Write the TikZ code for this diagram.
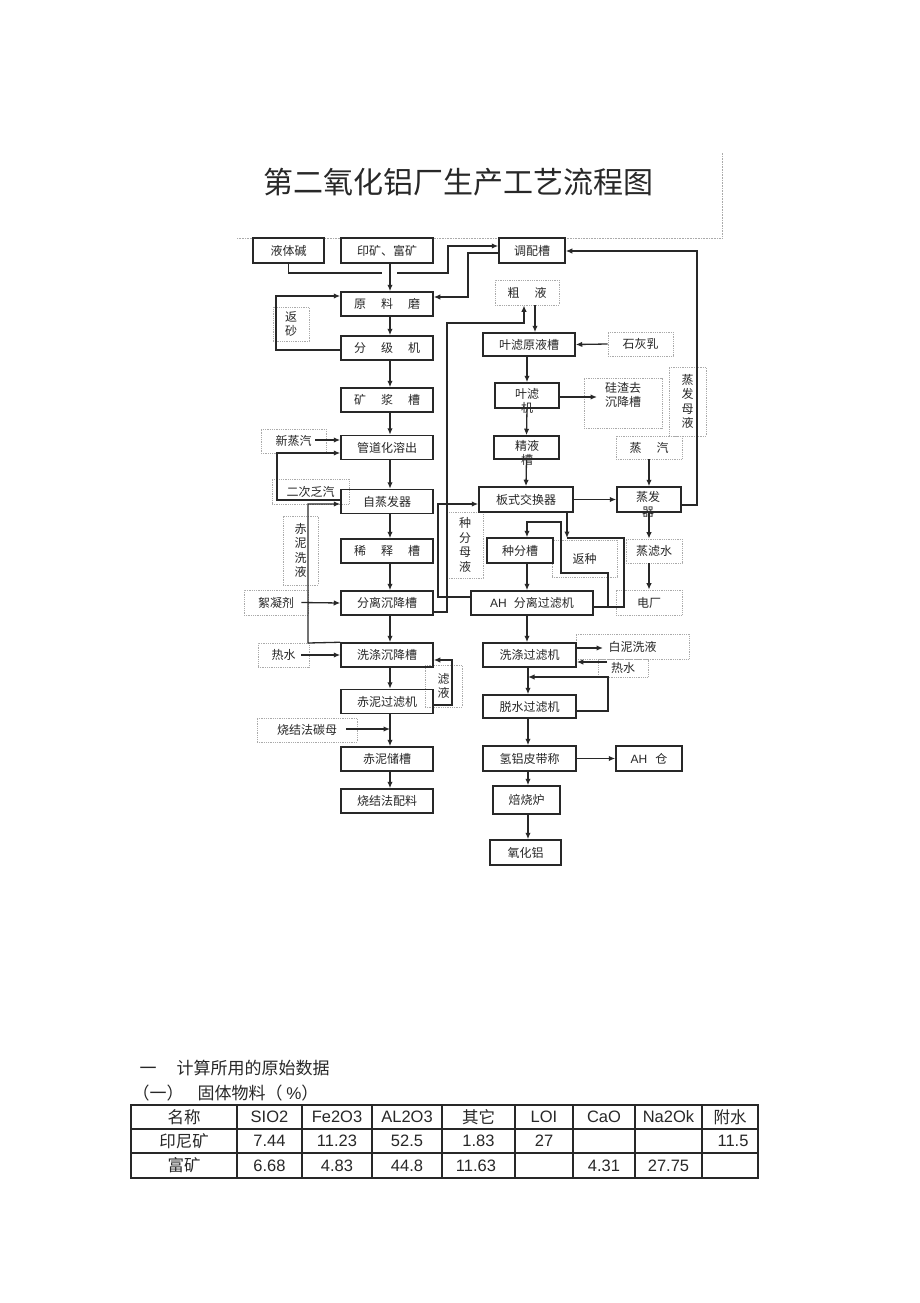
\documentclass[tikz,border=0pt]{standalone}
\usepackage{fontspec}
\setmainfont{Noto Sans CJK SC}
\newfontfamily\arial{Liberation Sans}
\usetikzlibrary{arrows.meta}

\definecolor{inkgray}{RGB}{40,40,40}
\definecolor{dotgray}{RGB}{170,170,170}

\tikzset{%
  proc/.style={draw=inkgray, line width=1.5pt, inner sep=0pt, text=inkgray,
    font=\fontsize{12}{14.5}\selectfont},
  leftbox/.style={minimum width=92pt, minimum height=24pt},
  note/.style={draw=dotgray, densely dotted, line width=0.8pt, inner sep=0pt,
    align=center, text=inkgray, font=\fontsize{12}{14.5}\selectfont},
  tag/.style={inner sep=0pt, align=center, text=inkgray,
    font=\fontsize{12}{14.5}\selectfont},
  link/.style={draw=inkgray, line width=1.3pt},
  flow/.style={draw=inkgray, line width=1.3pt, -{Latex[length=6.5pt,width=5.5pt]}},
  tabline/.style={draw=inkgray, line width=1.2pt},
  cncell/.style={inner sep=0pt, text=inkgray, font=\fontsize{16.5}{19}\selectfont},
  numcell/.style={inner sep=0pt, text=inkgray, font=\arial\fontsize{16.5}{19}\selectfont},
}

\begin{document}
\begin{tikzpicture}[%
      x=1pt,
      y=-1pt,
      ]
      \fill [white] (0,0) rectangle (920,1303);
      \useasboundingbox (0,0) rectangle (920,1303);

      \node [text=inkgray, font=\fontsize{30}{36}\selectfont] (title) at (458,182) {第二氧化铝厂生产工艺流程图};
      \draw [dotgray, densely dotted, line width=0.6pt] (237,238) -- (722,238) -- (722,152);

      % notes
      \node [note, minimum width=36pt, minimum height=34pt] (sandnote) at (291,324) {返\\砂};
      \node [note, minimum width=65pt, minimum height=24pt] (steamnew) at (293.5,441) {新蒸汽};
      \node [note, minimum width=77pt, minimum height=25pt] (steamsec) at (310.5,491.5) {二次乏汽};
      \node [note, minimum width=35pt, minimum height=69pt] (mudwash) at (300.5,550.5) {赤\\泥\\洗\\液};
      \node [note, minimum width=64pt, minimum height=25pt] (floc) at (276,602.5) {絮凝剂};
      \node [note, minimum width=51pt, minimum height=24pt] (hotwater) at (283.5,655) {热水};
      \node [note, minimum width=37pt, minimum height=42pt] (filtrate) at (443.5,686) {滤\\液};
      \node [note, minimum width=100pt, minimum height=24pt] (sintml) at (307,730) {烧结法碳母};
      \node [note, minimum width=64pt, minimum height=25pt] (crude) at (527,292.5) {粗\hspace{15pt}液};
      \node [note, minimum width=65pt, minimum height=24pt] (lime) at (640.5,344) {石灰乳};
      \node [note, minimum width=78pt, minimum height=50pt] (silica) at (623,403) {};
      \node [tag] (silicatxt) at (623,395) {硅渣去\\沉降槽};
      \node [note, minimum width=37pt, minimum height=69pt] (evapml) at (687.5,401.5) {蒸\\发\\母\\液};
      \node [note, minimum width=66pt, minimum height=23pt] (steam) at (649,447.5) {蒸\hspace{15pt}汽};
      \node [note, minimum width=56pt, minimum height=24pt] (cond) at (654,551) {蒸滤水};
      \node [note, minimum width=66pt, minimum height=25pt] (power) at (649,602.5) {电厂};
      \node [note, minimum width=36pt, minimum height=66pt] (seedml) at (465,545) {种\\分\\母\\液};
      \node [note, minimum width=65pt, minimum height=37pt] (seedback) at (584.5,558.5) {返种};
      \node [note, minimum width=113pt, minimum height=25pt] (whitemud) at (632.5,646.5) {白泥洗液};
      \node [note, minimum width=50pt, minimum height=18pt] (hotwater2) at (623,668) {热水};

      % left line
      \node [proc, minimum width=71pt, minimum height=25pt] (lye) at (288.5,250.5) {液体碱};
      \node [proc, minimum width=92pt, minimum height=25pt] (ore) at (387,250.5) {印矿、富矿};
      \node [proc, leftbox] (mill) at (387,304) {原\hspace{15pt}料\hspace{15pt}磨};
      \node [proc, leftbox] (grader) at (387,348) {分\hspace{15pt}级\hspace{15pt}机};
      \node [proc, leftbox] (slurry) at (387,400) {矿\hspace{15pt}浆\hspace{15pt}槽};
      \node [proc, leftbox] (digest) at (387,447.5) {管道化溶出};
      \node [proc, leftbox] (flash) at (387,501.5) {自蒸发器};
      \node [proc, leftbox] (dilute) at (387,551) {稀\hspace{15pt}释\hspace{15pt}槽};
      \node [proc, leftbox] (settle) at (387,603) {分离沉降槽};
      \node [proc, leftbox] (washset) at (387,655) {洗涤沉降槽};
      \node [proc, leftbox] (mudfilt) at (387,701.5) {赤泥过滤机};
      \node [proc, leftbox] (mudtank) at (387,759) {赤泥储槽};
      \node [proc, leftbox] (sinter) at (387,801) {烧结法配料};

      % right line
      \node [proc, minimum width=66pt, minimum height=25pt] (mix) at (532,250.5) {调配槽};
      \node [proc, minimum width=92pt, minimum height=23pt] (leafin) at (529,344.5) {叶滤原液槽};
      \node [proc, minimum width=64pt, minimum height=25pt] (leaf) at (527,395.5) {};
      \node [tag] (leaftxt) at (527,401) {叶滤\\机};
      \node [proc, minimum width=65pt, minimum height=23pt] (pure) at (526.5,447.5) {};
      \node [tag] (puretxt) at (527,453) {精液\\槽};
      \node [proc, minimum width=94pt, minimum height=25pt] (phe) at (526,499.5) {板式交换器};
      \node [proc, minimum width=64pt, minimum height=25pt] (evap) at (649,499.5) {};
      \node [tag] (evaptxt) at (648,504.5) {蒸发\\器};
      \node [proc, minimum width=66pt, minimum height=25pt] (seedtank) at (520,550.5) {种分槽};
      \node [proc, minimum width=122pt, minimum height=24pt] (ahsep) at (532,603) {{\arial AH}\hspace{7pt}分离过滤机};
      \node [proc, minimum width=93pt, minimum height=24pt] (washf) at (529.5,655) {洗涤过滤机};
      \node [proc, minimum width=93pt, minimum height=23pt] (dewater) at (529.5,706.5) {脱水过滤机};
      \node [proc, minimum width=93pt, minimum height=25pt] (belt) at (529.5,758.5) {氢铝皮带称};
      \node [proc, minimum width=66pt, minimum height=25pt] (ahbin) at (649,758.5) {{\arial AH}\hspace{8pt}仓};
      \node [proc, minimum width=67pt, minimum height=28pt] (kiln) at (526.5,800) {焙烧炉};
      \node [proc, minimum width=71pt, minimum height=25pt] (alumina) at (525.5,852.5) {氧化铝};

      \coordinate (lyeend) at (382,273);
      \coordinate (mixstart) at (397,273);
      \coordinate (mudjoin) at (390,729);
      \coordinate (silicain) at (597,397);
      \coordinate (seedcorner) at (567,538);
      \coordinate (whitein) at (603,648);
      \coordinate (hotout) at (607,662);
      \coordinate (dewjoin) at (528,677);

      \draw [link] (lye.south) |- (lyeend);
      \draw [flow] (mixstart) -- (448,273) -- (448,246) -- ([yshift=4.5pt]mix.west);
      \draw [flow] ([yshift=-2.5pt]mix.west) -- (468,253) -- (468,297) -- ([yshift=7pt]mill.east);
      \draw [flow] ([xshift=3pt]ore.south) -- ([xshift=3pt]mill.north);
      \draw [flow] ([yshift=-2pt]grader.west) -- (276,350) -- (276,296) -- ([yshift=8pt]mill.west);
      \draw [flow] ([xshift=3pt]mill.south) -- ([xshift=3pt]grader.north);
      \draw [flow] ([xshift=3pt]grader.south) -- ([xshift=3pt]slurry.north);
      \draw [flow] ([xshift=3pt]slurry.south) -- ([xshift=3pt]digest.north);
      \draw [flow] ([xshift=3pt]digest.south) -- ([xshift=3pt]flash.north);
      \draw [flow] ([xshift=3pt]flash.south) -- ([xshift=3pt]dilute.north);
      \draw [flow] ([xshift=3pt]dilute.south) -- ([xshift=3pt]settle.north);
      \draw [flow] ([xshift=3pt]settle.south) -- ([xshift=3pt]washset.north);
      \draw [flow] ([xshift=3pt]washset.south) -- ([xshift=3pt]mudfilt.north);
      \draw [flow] ([xshift=3pt]mudfilt.south) -- ([xshift=3pt]mudtank.north);
      \draw [flow] ([xshift=3pt]mudtank.south) -- ([xshift=3pt]sinter.north);
      \draw [flow] ([xshift=-11pt,yshift=1pt]steamnew.east) -- ([yshift=7.5pt]digest.west);
      \draw [flow] ([yshift=1.5pt]flash.west) -- (277,500) -- (277,453) -- ([yshift=-5.5pt]digest.west);
      \draw [flow] (washset.north west) -- (308,643) -- (308,504) -- ([yshift=-2.5pt]flash.west);
      \draw [flow] ([xshift=-7pt]floc.east) -- (settle.west);
      \draw [flow] ([xshift=-8pt]hotwater.east) -- (washset.west);
      \draw [flow] ([yshift=-3.5pt]mudfilt.east) -- (452,705) -- (452,660) -- ([yshift=-5pt]washset.east);
      \draw [flow] ([xshift=-11pt,yshift=1pt]sintml.east) -- (mudjoin);

      \draw [flow] ([yshift=-9pt]settle.east) -- (447,612) -- (447,323) -- (524,323) -- ([xshift=-3pt]crude.south);
      \draw [flow] ([xshift=8pt]crude.south) -- ([xshift=6pt]leafin.north);
      \draw [flow] (lime.west) -- (leafin.east);
      \draw [flow] ([xshift=-2pt]leafin.south) -- (leaf.north);
      \draw [flow] ([yshift=-1.5pt]leaf.east) -- (silicain);
      \draw [flow] (leaf.south) -- (pure.north);
      \draw [flow] (pure.south) -- (phe.north);
      \draw [flow] (phe.east) -- (evap.west);
      \draw [flow] (steam.south) -- (evap.north);
      \draw [flow] (evap.south) -- ([xshift=-5pt]cond.north);
      \draw [flow] ([xshift=-5pt]cond.south) -- (power.north);
      \draw [flow] ([yshift=-5.5pt]evap.east) -- (697,505) -- (697,251) -- ([yshift=-0.5pt]mix.east);
      \draw [flow] ([yshift=6pt]ahsep.west) -- (438,597) -- (438,504) -- ([yshift=-4.5pt]phe.west);
      \draw [flow] ([xshift=41pt]phe.south) -- (seedcorner);
      \draw [link, line width=2pt] (seedcorner) -- (624,538) -- (624,607) -- ([yshift=-4pt]ahsep.east);
      \draw [flow] ([yshift=-4pt]ahsep.east) -- (608,607) -- (608,573) -- (561,573) -- (561,522) -- (527,522) -- ([xshift=7pt]seedtank.north);
      \draw [flow] ([xshift=7pt]seedtank.south) -- ([xshift=-5pt]ahsep.north);
      \draw [flow] ([xshift=-5pt]ahsep.south) -- ([xshift=-2.5pt]washf.north);
      \draw [flow] ([yshift=7pt]washf.east) -- (whitein);
      \draw [flow] (hotout) -- ([yshift=-7pt]washf.east);
      \draw [flow] ([yshift=-4.5pt]dewater.east) -- (608,711) -- (608,677) -- (dewjoin);
      \draw [flow] ([xshift=-1.5pt]washf.south) -- ([xshift=-1.5pt]dewater.north);
      \draw [flow] ([xshift=-1.5pt]dewater.south) -- ([xshift=-1.5pt]belt.north);
      \draw [flow] (belt.east) -- (ahbin.west);
      \draw [flow] ([xshift=-1.5pt]belt.south) -- ([xshift=1.5pt]kiln.north);
      \draw [flow] ([xshift=1.5pt]kiln.south) -- ([xshift=2.5pt]alumina.north);

      % data table
      \node [anchor=west, text=inkgray, font=\fontsize{17}{20}\selectfont] (sec1) at (136,1068) {一\hspace{20pt}计算所用的原始数据};
      \node [anchor=west, text=inkgray, font=\fontsize{17}{20}\selectfont] (sec2) at (129,1093) {（一）\hspace{14pt}固体物料（ {\arial\%}）};

      \draw [tabline] (131,1105) rectangle (758,1178);
      \draw [tabline] (131,1129) -- (758,1129);
      \draw [tabline] (131,1153) -- (758,1153);
      \draw [tabline] (237,1105) -- (237,1178);
      \draw [tabline] (302,1105) -- (302,1178);
      \draw [tabline] (372,1105) -- (372,1178);
      \draw [tabline] (442,1105) -- (442,1178);
      \draw [tabline] (515,1105) -- (515,1178);
      \draw [tabline] (573,1105) -- (573,1178);
      \draw [tabline] (635,1105) -- (635,1178);
      \draw [tabline] (702,1105) -- (702,1178);

      \node [cncell] (h1) at (184,1117) {名称};
      \node [numcell] (h2) at (269.5,1117) {SIO2};
      \node [numcell] (h3) at (337,1117) {Fe2O3};
      \node [numcell] (h4) at (407,1117) {AL2O3};
      \node [cncell] (h5) at (478.5,1117) {其它};
      \node [numcell] (h6) at (544,1117) {LOI};
      \node [numcell] (h7) at (604,1117) {CaO};
      \node [numcell] (h8) at (668.5,1117) {Na2Ok};
      \node [cncell] (h9) at (730,1117) {附水};

      \node [cncell] (a1) at (184,1141) {印尼矿};
      \node [numcell] (a2) at (269.5,1141) {7.44};
      \node [numcell] (a3) at (337,1141) {11.23};
      \node [numcell] (a4) at (407,1141) {52.5};
      \node [numcell] (a5) at (478.5,1141) {1.83};
      \node [numcell] (a6) at (544,1141) {27};
      \node [numcell] (a9) at (733,1141) {11.5};

      \node [cncell] (b1) at (184,1165.5) {富矿};
      \node [numcell] (b2) at (269.5,1165.5) {6.68};
      \node [numcell] (b3) at (337,1165.5) {4.83};
      \node [numcell] (b4) at (407,1165.5) {44.8};
      \node [numcell] (b5) at (476,1165.5) {11.63};
      \node [numcell] (b7) at (604,1165.5) {4.31};
      \node [numcell] (b8) at (668.5,1165.5) {27.75};
      \end{tikzpicture}
\end{document}
